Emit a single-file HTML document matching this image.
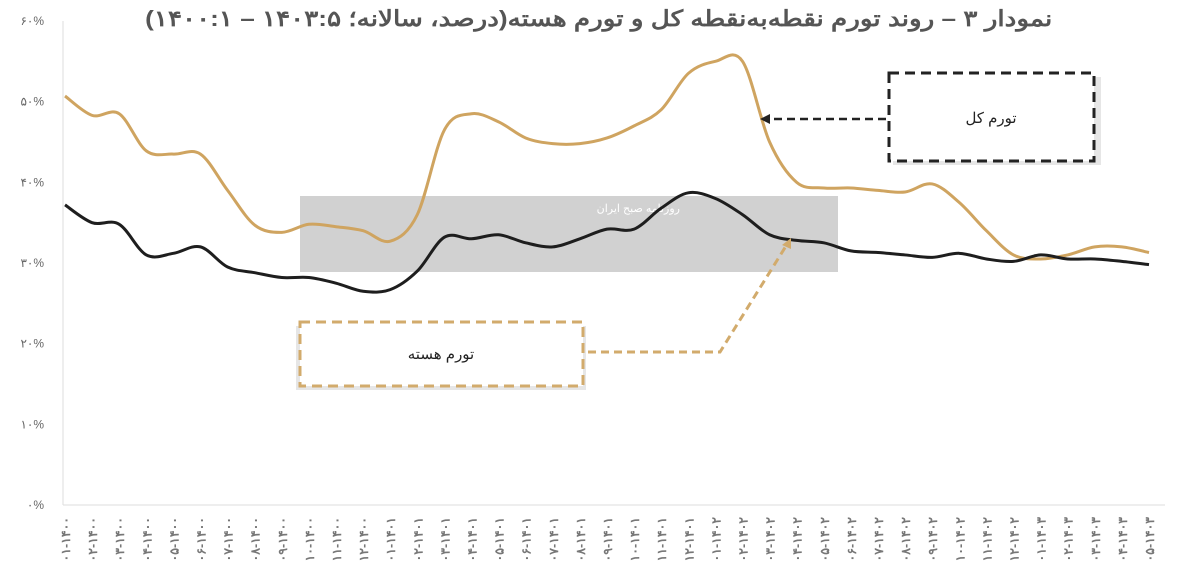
<!DOCTYPE html>
<html><head><meta charset="utf-8">
<style>
html,body{margin:0;padding:0;background:#fff;}
body{width:1200px;height:577px;overflow:hidden;position:relative;font-family:"Liberation Sans","Noto Sans CJK SC",sans-serif;}
#title{position:absolute;right:148px;top:6px;direction:rtl;font-size:22px;font-weight:bold;color:#555;white-space:nowrap;transform:scaleX(1.19);transform-origin:right center;font-family:"Liberation Sans","Noto Sans CJK SC",sans-serif;}
svg{position:absolute;left:0;top:0;}
</style></head>
<body>
<svg id="chart" width="1200" height="577" viewBox="0 0 1200 577" xmlns="http://www.w3.org/2000/svg">
  <rect x="300" y="196" width="538" height="76" fill="#c9c9c9" opacity="0.85"/>
  <text x="680" y="212" text-anchor="start" font-size="11" fill="#fff" direction="rtl">روزنامه صبح ایران</text>
  <line x1="63" y1="21" x2="63" y2="505" stroke="#ddd" stroke-width="1"/>
  <line x1="63" y1="505" x2="1165" y2="505" stroke="#ddd" stroke-width="1"/>
  <g id="yticks"></g>
  <g id="xticks"></g>
  <g id="series"></g>
  <rect x="893" y="77" width="208" height="88" fill="#e6e6e6"/>
  <rect x="889" y="73" width="205" height="88" fill="#fff" stroke="#222" stroke-width="3" stroke-dasharray="10,6"/>
  <text x="991" y="123" text-anchor="middle" font-size="15" fill="#222">تورم کل</text>
  <line x1="886" y1="119" x2="768" y2="119" stroke="#222" stroke-width="2.5" stroke-dasharray="8,5"/>
  <polygon points="760,119 770,114 770,124" fill="#222"/>
  <rect x="296" y="326" width="290" height="64" fill="#e6e6e6"/>
  <rect x="300" y="322" width="283" height="64" fill="#fff" stroke="#d2ab6c" stroke-width="3" stroke-dasharray="10,6"/>
  <text x="441" y="359" text-anchor="middle" font-size="15" fill="#222">تورم هسته</text>
  <polyline points="588,352 720,352 786,246" fill="none" stroke="#d2ab6c" stroke-width="3" stroke-dasharray="8,5"/>
  <polygon points="791,238 782,245 791,249" fill="#d2ab6c"/>
</svg>
<div id="title">نمودار ۳ – روند تورم نقطه‌به‌نقطه کل و تورم هسته(درصد، سالانه؛ ۱۴۰۳:۵ – ۱۴۰۰:۱)</div>
<script>
const months = ["۰۱","۰۲","۰۳","۰۴","۰۵","۰۶","۰۷","۰۸","۰۹","۱۰","۱۱","۱۲"];
const years = ["۱۴۰۰","۱۴۰۱","۱۴۰۲","۱۴۰۳"];
const yTicks = [0,10,20,30,40,50,60];
const yTickLabels = ["۰%","۱۰%","۲۰%","۳۰%","۴۰%","۵۰%","۶۰%"];
const totalInflation = [50.7,48.3,48.5,43.9,43.5,43.5,39,34.7,33.8,34.8,34.5,34,32.7,36,46.5,48.5,47.5,45.5,44.8,44.8,45.5,47,49,53.5,55,55,45,40,39.3,39.3,39,38.8,39.8,37.5,34,31,30.5,31,32,32,31.3];
const coreInflation = [37.2,35,34.8,31,31.2,32,29.5,28.8,28.2,28.2,27.5,26.5,26.7,29,33.2,33,33.5,32.5,32,33,34.2,34.2,36.8,38.7,38,36,33.5,32.8,32.5,31.5,31.3,31,30.7,31.2,30.5,30.2,31,30.5,30.5,30.2,29.8];
const categories = [];
for (let y=0;y<years.length;y++) for (let m=0;m<12;m++) { if (categories.length<41) categories.push(months[m]+"-"+years[y]); }

const NS="http://www.w3.org/2000/svg";
const x0=65, dx=27.1, yBase=505, yTop=21, yMax=60;
function xs(i){return x0+i*dx;}
function ys(v){return yBase-(v/yMax)*(yBase-yTop);}

const yg=document.getElementById('yticks');
yTicks.forEach((t,i)=>{
  const el=document.createElementNS(NS,'text');
  
  
  el.setAttribute('x',44);el.setAttribute('y',ys(t)+4);
  el.setAttribute('text-anchor','end');el.setAttribute('font-size','12');el.setAttribute('fill','#666');
  el.textContent=yTickLabels[i];yg.appendChild(el);
});
const xg=document.getElementById('xticks');
categories.forEach((c,i)=>{
  const el=document.createElementNS(NS,'text');
  
  
  const x=xs(i)+5, y=517;
  el.setAttribute('transform','translate('+x+','+y+') rotate(-90)');
  el.setAttribute('text-anchor','end');el.setAttribute('font-size','12.5');el.setAttribute('font-weight','bold');el.setAttribute('fill','#777');
  el.textContent=c;xg.appendChild(el);
});
function smooth(vals){
  const p=vals.map((v,i)=>[xs(i),ys(v)]);
  let d='M'+p[0][0]+','+p[0][1];
  for(let i=0;i<p.length-1;i++){
    const a=p[i-1]||p[i],b=p[i],c=p[i+1],e=p[i+2]||c;
    const c1=[b[0]+(c[0]-a[0])/6,b[1]+(c[1]-a[1])/6];
    const c2=[c[0]-(e[0]-b[0])/6,c[1]-(e[1]-b[1])/6];
    d+=' C'+c1[0]+','+c1[1]+' '+c2[0]+','+c2[1]+' '+c[0]+','+c[1];
  }
  return d;
}
const sg=document.getElementById('series');
const t=document.createElementNS(NS,'path');


t.setAttribute('d',smooth(totalInflation));t.setAttribute('fill','none');t.setAttribute('stroke','#cfa460');t.setAttribute('stroke-width','3');
sg.appendChild(t);
const c=document.createElementNS(NS,'path');


c.setAttribute('d',smooth(coreInflation));c.setAttribute('fill','none');c.setAttribute('stroke','#1e1e1e');c.setAttribute('stroke-width','3');
sg.appendChild(c);
</script>
</body></html>
